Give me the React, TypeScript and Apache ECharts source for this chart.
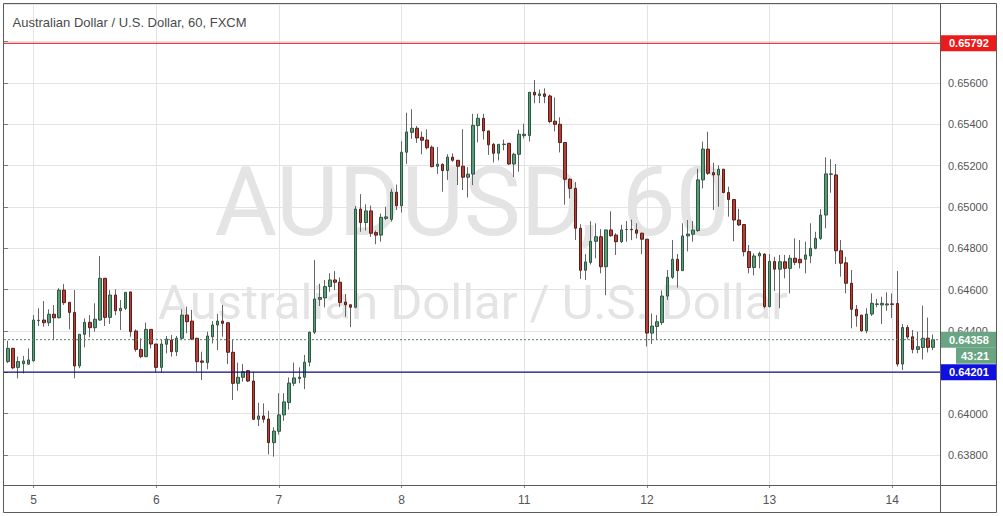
import React, { useEffect, useRef } from "react";
import * as echarts from "echarts";

// ---------- data ----------
const sessionDays = ["4", "5", "6", "7", "8", "11", "12", "13", "14"];
const sessionFirstHour = [19, 0, 0, 0, 0, 0, 0, 0, 0];
const sessionBarCount = [5, 24, 24, 24, 24, 24, 24, 24, 9];

const openPrices = [
  0.64252, 0.64316, 0.64224, 0.64242, 0.6424, 0.64256, 0.6445, 0.64453, 0.6444, 0.64481,
  0.64464, 0.64598, 0.64539, 0.6449, 0.64231, 0.64384, 0.64442, 0.64416, 0.64453, 0.64655,
  0.64466, 0.64574, 0.64498, 0.6451, 0.64589, 0.644, 0.64311, 0.64276, 0.64408, 0.64337,
  0.64224, 0.64336, 0.64356, 0.643, 0.64365, 0.64477, 0.64448, 0.64365, 0.64255, 0.64247,
  0.64372, 0.64429, 0.64448, 0.6444, 0.64297, 0.64147, 0.64176, 0.64208, 0.64158, 0.63973,
  0.63989, 0.63974, 0.6386, 0.63915, 0.63994, 0.64054, 0.64147, 0.6417, 0.64176, 0.64249,
  0.64394, 0.64553, 0.6456, 0.64615, 0.64647, 0.64636, 0.6454, 0.64527, 0.64515, 0.6499,
  0.64925, 0.64981, 0.64876, 0.64864, 0.64945, 0.6494, 0.65071, 0.65006, 0.65265, 0.65361,
  0.65381, 0.65337, 0.65324, 0.65289, 0.65197, 0.65206, 0.65176, 0.65241, 0.65226, 0.65197,
  0.65144, 0.65159, 0.65394, 0.65429, 0.65368, 0.65303, 0.6526, 0.65302, 0.65308, 0.65208,
  0.65255, 0.65345, 0.65345, 0.65555, 0.65539, 0.65547, 0.65537, 0.65415, 0.654, 0.65312,
  0.65134, 0.6509, 0.64897, 0.64694, 0.64732, 0.64834, 0.64856, 0.64711, 0.64889, 0.64864,
  0.64832, 0.64891, 0.64892, 0.64889, 0.64873, 0.64844, 0.6439, 0.64422, 0.64441, 0.64569,
  0.6466, 0.64747, 0.64692, 0.6486, 0.64868, 0.64886, 0.65131, 0.6528, 0.65166, 0.65155,
  0.65183, 0.6507, 0.65036, 0.64937, 0.64915, 0.64784, 0.64707, 0.64763, 0.64772, 0.64518,
  0.64736, 0.64699, 0.64735, 0.64703, 0.64752, 0.64747, 0.64747, 0.64763, 0.648, 0.64848,
  0.64961, 0.65158, 0.65155, 0.64788, 0.6473, 0.64631, 0.64505, 0.64477, 0.64401, 0.64482,
  0.64529, 0.64526, 0.64526, 0.64531, 0.64533, 0.6424, 0.64417, 0.64372, 0.64311, 0.6432,
  0.64365, 0.64321,
];
const closePrices = [
  0.64316, 0.64222, 0.64252, 0.64255, 0.6426, 0.64453, 0.64452, 0.6444, 0.64481, 0.64464,
  0.64598, 0.64537, 0.6449, 0.64231, 0.64384, 0.64442, 0.64416, 0.64457, 0.64655, 0.64466,
  0.64574, 0.64498, 0.6451, 0.64587, 0.64397, 0.64311, 0.64276, 0.64408, 0.64337, 0.64224,
  0.64337, 0.64361, 0.643, 0.64365, 0.64477, 0.64445, 0.64361, 0.64252, 0.64249, 0.64376,
  0.64429, 0.64448, 0.64437, 0.64297, 0.64147, 0.64176, 0.64203, 0.64158, 0.63973, 0.63989,
  0.63973, 0.6386, 0.63916, 0.63994, 0.64057, 0.64148, 0.64173, 0.64177, 0.64249, 0.64394,
  0.64555, 0.64562, 0.64615, 0.64647, 0.64636, 0.64538, 0.64527, 0.64515, 0.6499, 0.64925,
  0.64981, 0.64873, 0.64864, 0.6495, 0.64952, 0.65072, 0.65006, 0.65265, 0.65363, 0.65381,
  0.65334, 0.65323, 0.65287, 0.65195, 0.65207, 0.65176, 0.65241, 0.65226, 0.65197, 0.65144,
  0.65159, 0.65395, 0.65429, 0.65368, 0.65301, 0.6526, 0.65303, 0.65304, 0.65208, 0.65255,
  0.65352, 0.65352, 0.65555, 0.65542, 0.65547, 0.65535, 0.65413, 0.654, 0.65312, 0.65134,
  0.6509, 0.64897, 0.64694, 0.64734, 0.64834, 0.64856, 0.64711, 0.64889, 0.64861, 0.64832,
  0.64889, 0.64892, 0.6489, 0.64873, 0.64844, 0.6439, 0.64424, 0.64445, 0.64569, 0.6466,
  0.64747, 0.64692, 0.6486, 0.64869, 0.64888, 0.65131, 0.6528, 0.65163, 0.65155, 0.65183,
  0.6507, 0.65036, 0.64937, 0.64913, 0.64784, 0.64707, 0.64763, 0.64775, 0.64518, 0.64737,
  0.64699, 0.64735, 0.64703, 0.64752, 0.64732, 0.6473, 0.64768, 0.648, 0.64848, 0.64961,
  0.6516, 0.6516, 0.64788, 0.64728, 0.64631, 0.64505, 0.64473, 0.64401, 0.64482, 0.64534,
  0.64531, 0.64534, 0.64531, 0.64529, 0.6424, 0.64417, 0.64371, 0.64311, 0.64324, 0.64365,
  0.64321, 0.64358,
];
const lowPrices = [
  0.64245, 0.64215, 0.64171, 0.64195, 0.64236, 0.64252, 0.64424, 0.64421, 0.64424, 0.64356,
  0.64461, 0.64526, 0.64408, 0.64171, 0.6422, 0.64321, 0.6437, 0.64397, 0.6445, 0.64424,
  0.64434, 0.64477, 0.64405, 0.64502, 0.64372, 0.643, 0.64268, 0.64273, 0.64316, 0.64198,
  0.64198, 0.64292, 0.64276, 0.64279, 0.64356, 0.64389, 0.64356, 0.64203, 0.64163, 0.64215,
  0.6434, 0.64308, 0.64372, 0.6424, 0.64066, 0.64111, 0.64155, 0.64153, 0.63969, 0.6394,
  0.63956, 0.63803, 0.63792, 0.63899, 0.63965, 0.6402, 0.64134, 0.64147, 0.64119, 0.64229,
  0.64385, 0.64521, 0.64514, 0.6459, 0.64598, 0.64516, 0.64469, 0.64419, 0.6451, 0.6488,
  0.64886, 0.64855, 0.6482, 0.64832, 0.64937, 0.64929, 0.64985, 0.64973, 0.65209, 0.6533,
  0.6531, 0.65255, 0.65278, 0.65192, 0.6516, 0.65074, 0.65131, 0.65219, 0.65106, 0.65082,
  0.65046, 0.65106, 0.65313, 0.65326, 0.65252, 0.65215, 0.65225, 0.65274, 0.65203, 0.65145,
  0.65171, 0.65332, 0.65316, 0.65502, 0.65502, 0.65502, 0.65405, 0.65366, 0.65264, 0.65011,
  0.65042, 0.6484, 0.64652, 0.64647, 0.64722, 0.64752, 0.64679, 0.64573, 0.64856, 0.64768,
  0.64826, 0.64832, 0.6484, 0.64848, 0.64772, 0.64325, 0.64337, 0.64356, 0.64429, 0.6455,
  0.64652, 0.6461, 0.64692, 0.64785, 0.64832, 0.6488, 0.6509, 0.65155, 0.64985, 0.65001,
  0.65066, 0.64953, 0.64834, 0.64908, 0.64761, 0.64679, 0.64669, 0.64703, 0.6451, 0.64514,
  0.64594, 0.6451, 0.64655, 0.64582, 0.64719, 0.64703, 0.64679, 0.64728, 0.64795, 0.6484,
  0.64897, 0.65069, 0.64724, 0.64663, 0.64582, 0.64413, 0.64421, 0.64397, 0.64389, 0.64473,
  0.64515, 0.64434, 0.64498, 0.64463, 0.64228, 0.64211, 0.64359, 0.64292, 0.64292, 0.64262,
  0.64296, 0.64308,
];
const highPrices = [
  0.64353, 0.64319, 0.64276, 0.64279, 0.64316, 0.64477, 0.6451, 0.64545, 0.64505, 0.64526,
  0.64607, 0.64627, 0.64539, 0.64598, 0.64385, 0.64461, 0.64477, 0.64534, 0.64763, 0.64655,
  0.64598, 0.64602, 0.6455, 0.64589, 0.64589, 0.64408, 0.64365, 0.6444, 0.64408, 0.64337,
  0.64356, 0.64376, 0.64381, 0.64376, 0.64505, 0.64518, 0.64502, 0.64365, 0.643, 0.64397,
  0.64448, 0.64482, 0.64526, 0.6444, 0.64356, 0.64247, 0.6424, 0.64211, 0.64203, 0.64053,
  0.6405, 0.64014, 0.63934, 0.64099, 0.64099, 0.64175, 0.64247, 0.64224, 0.64284, 0.64397,
  0.64744, 0.64629, 0.64647, 0.64679, 0.6469, 0.64659, 0.64579, 0.64527, 0.65005, 0.65062,
  0.65013, 0.65007, 0.64886, 0.64968, 0.65001, 0.65088, 0.65108, 0.65318, 0.65456, 0.65473,
  0.65392, 0.65365, 0.65376, 0.65298, 0.6529, 0.65211, 0.65255, 0.65259, 0.65226, 0.65376,
  0.65193, 0.65451, 0.65451, 0.65451, 0.65368, 0.6531, 0.65303, 0.65326, 0.65308, 0.65262,
  0.65374, 0.65403, 0.65555, 0.65614, 0.65568, 0.65574, 0.65544, 0.6553, 0.65434, 0.65312,
  0.65139, 0.65121, 0.64916, 0.64772, 0.64931, 0.64921, 0.64893, 0.64889, 0.64979, 0.64873,
  0.64914, 0.64932, 0.64939, 0.64921, 0.64876, 0.64844, 0.64485, 0.64477, 0.64596, 0.64695,
  0.6484, 0.64773, 0.64921, 0.64937, 0.64932, 0.65185, 0.65316, 0.65364, 0.65214, 0.65201,
  0.65183, 0.65098, 0.65036, 0.64991, 0.64915, 0.64816, 0.64776, 0.64784, 0.64776, 0.64772,
  0.64759, 0.64768, 0.64768, 0.64768, 0.64848, 0.6484, 0.64832, 0.64921, 0.6488, 0.64989,
  0.6524, 0.65231, 0.65208, 0.6484, 0.64759, 0.64695, 0.64526, 0.64477, 0.6451, 0.64582,
  0.64555, 0.64566, 0.64587, 0.64582, 0.6469, 0.64434, 0.64429, 0.64405, 0.64397, 0.64523,
  0.64465, 0.64383,
];

const resistanceLevel = 0.65792;
const supportLevel = 0.64201;
const lastPrice = 0.64358;
const countdownText = "43:21";
const priceMin = 0.63655;
const priceMax = 0.65982;

const chartTitle = "Australian Dollar / U.S. Dollar, 60, FXCM";
const watermarkSymbol = "AUDUSD, 60";
const watermarkName = "Australian Dollar / U.S. Dollar";

// ---------- derived tables ----------
const categories: string[] = [];
sessionDays.forEach((d, k) => {
  for (let j = 0; j < sessionBarCount[k]; j++) {
    const h = sessionFirstHour[k] + j;
    categories.push(`${d} ${String(h).padStart(2, "0")}:00`);
  }
});
const wickData = openPrices.map((o, i) => [o, closePrices[i], lowPrices[i], highPrices[i]]);
const bodyData = openPrices.map((o, i) => [
  o,
  closePrices[i],
  Math.min(o, closePrices[i]),
  Math.max(o, closePrices[i]),
]);

const isDayStart = (_i: number, v: string) => String(v).endsWith(" 00:00");

const FONT = '"Liberation Sans", Arial, sans-serif';

export default function App() {
  const ref = useRef<HTMLDivElement>(null);

  useEffect(() => {
    if (!ref.current) return;
    document.body.style.margin = "0";
    const chart = echarts.init(ref.current, null, { renderer: "svg" });
    const option: any = {
      animation: false,
      backgroundColor: "#ffffff",
      grid: [
        { left: 4, right: 63, top: 4, bottom: 31 },
        { left: 8, right: 69.9, top: 4, bottom: 31 },
      ],
      xAxis: [
        { type: "value", gridIndex: 0, min: 0, max: 1, show: false },
        {
          type: "category",
          gridIndex: 1,
          data: categories,
          boundaryGap: false,
          axisLine: { show: false },
          axisTick: { show: true, interval: isDayStart, length: 3, lineStyle: { color: "#8a8a8a" } },
          axisLabel: {
            interval: isDayStart,
            formatter: (v: string) => v.split(" ")[0],
            color: "#555555",
            fontSize: 12,
            fontFamily: FONT,
            margin: 9,
          },
          splitLine: { show: true, interval: isDayStart, lineStyle: { color: "#e3e3e3", width: 1 } },
        },
      ],
      yAxis: [
        {
          type: "value",
          gridIndex: 0,
          position: "right",
          min: priceMin,
          max: priceMax,
          splitNumber: 12,
          axisLine: { show: false },
          axisTick: { show: true, length: 4, lineStyle: { color: "#7a7a7a" } },
          axisLabel: {
            margin: 8,
            color: "#555555",
            fontSize: 11,
            fontFamily: FONT,
            formatter: (v: number) => v.toFixed(5),
            showMinLabel: false,
            showMaxLabel: false,
          },
          splitLine: { show: true, lineStyle: { color: "#e3e3e3", width: 1 } },
        },
        {
          type: "value",
          gridIndex: 1,
          min: priceMin,
          max: priceMax,
          show: false,
          splitLine: { show: false },
        },
      ],
      series: [
        {
          type: "candlestick",
          name: "wick",
          xAxisIndex: 1,
          yAxisIndex: 1,
          data: wickData,
          barWidth: 1,
          clip: false,
          silent: true,
          z: 2,
          itemStyle: {
            color: "#666666",
            color0: "#666666",
            borderColor: "#666666",
            borderColor0: "#666666",
            borderWidth: 1,
          },
        },
        {
          type: "candlestick",
          name: "AUDUSD",
          xAxisIndex: 1,
          yAxisIndex: 1,
          data: bodyData,
          barWidth: 3,
          clip: false,
          silent: true,
          z: 3,
          itemStyle: {
            color: "#5a9c79",
            color0: "#b3413a",
            borderColor: "#2d5842",
            borderColor0: "#5e1c16",
            borderWidth: 1,
          },
        },
        {
          type: "line",
          xAxisIndex: 0,
          yAxisIndex: 0,
          data: [
            [0, resistanceLevel],
            [1, resistanceLevel],
          ],
          symbol: "none",
          silent: true,
          z: 5,
          lineStyle: { color: "#dd0a14", width: 1 },
        },
        {
          type: "line",
          xAxisIndex: 0,
          yAxisIndex: 0,
          data: [
            [0, supportLevel],
            [1, supportLevel],
          ],
          symbol: "none",
          silent: true,
          z: 5,
          lineStyle: { color: "#10108f", width: 1.2 },
        },
        {
          type: "line",
          xAxisIndex: 0,
          yAxisIndex: 0,
          data: [
            [0, lastPrice],
            [1, lastPrice],
          ],
          symbol: "none",
          silent: true,
          z: 4,
          lineStyle: { color: "#4c8466", width: 1, type: [2, 2] },
        },
      ],
    };
    chart.setOption(option);

    const yA = (v: number) => chart.convertToPixel({ yAxisIndex: 0 } as any, v) as number;
    const txt = (text: string, x: number, y: number, font: string, fill: string, align = "left", z = 20) => ({
      type: "text",
      z,
      silent: true,
      style: {
        text,
        x,
        y,
        font,
        fill,
        textAlign: align,
        align,
        textVerticalAlign: "middle",
        verticalAlign: "middle",
      },
    });
    const tag = (v: number, label: string, fill: string) => [
      { type: "rect", z: 20, silent: true, shape: { x: 941, y: yA(v) - 8, width: 55, height: 16 }, style: { fill } },
      txt(label, 949, yA(v), `bold 11px ${FONT}`, "#ffffff"),
    ];
    const yLast = yA(lastPrice);

    chart.setOption({
      graphic: [
        txt(watermarkSymbol, 472, 202, "96px Roboto", "#e4e4e4", "center", 0),
        txt(watermarkName, 473, 302, "49px Roboto", "#e4e4e4", "center", 0),
        txt(chartTitle, 12.5, 22.5, `13px ${FONT}`, "#4a4a4a"),
        {
          type: "rect",
          z: 20,
          silent: true,
          shape: { x: 3.5, y: 3.5, width: 993, height: 509 },
          style: { fill: "none", stroke: "#5b5b5b", lineWidth: 1 },
        },
        {
          type: "line",
          z: 20,
          silent: true,
          shape: { x1: 940.5, y1: 4, x2: 940.5, y2: 512 },
          style: { stroke: "#5b5b5b", lineWidth: 1 },
        },
        {
          type: "line",
          z: 20,
          silent: true,
          shape: { x1: 4, y1: 485.5, x2: 996, y2: 485.5 },
          style: { stroke: "#5b5b5b", lineWidth: 1 },
        },
        ...tag(resistanceLevel, resistanceLevel.toFixed(5), "#ec1b1b"),
        ...tag(lastPrice, lastPrice.toFixed(5), "#69a582"),
        { type: "rect", z: 20, silent: true, shape: { x: 956, y: yLast + 8, width: 40, height: 16 }, style: { fill: "#69a582" } },
        txt(countdownText, 975, yLast + 16, `bold 11px ${FONT}`, "#ffffff", "center"),
        ...tag(supportLevel, supportLevel.toFixed(5), "#0f0fe0"),
      ],
    });

    return () => chart.dispose();
  }, []);

  return (
    <div
      ref={ref}
      style={{ position: "absolute", left: 0, top: 0, width: 1003, height: 516, background: "#fff" }}
    />
  );
}
